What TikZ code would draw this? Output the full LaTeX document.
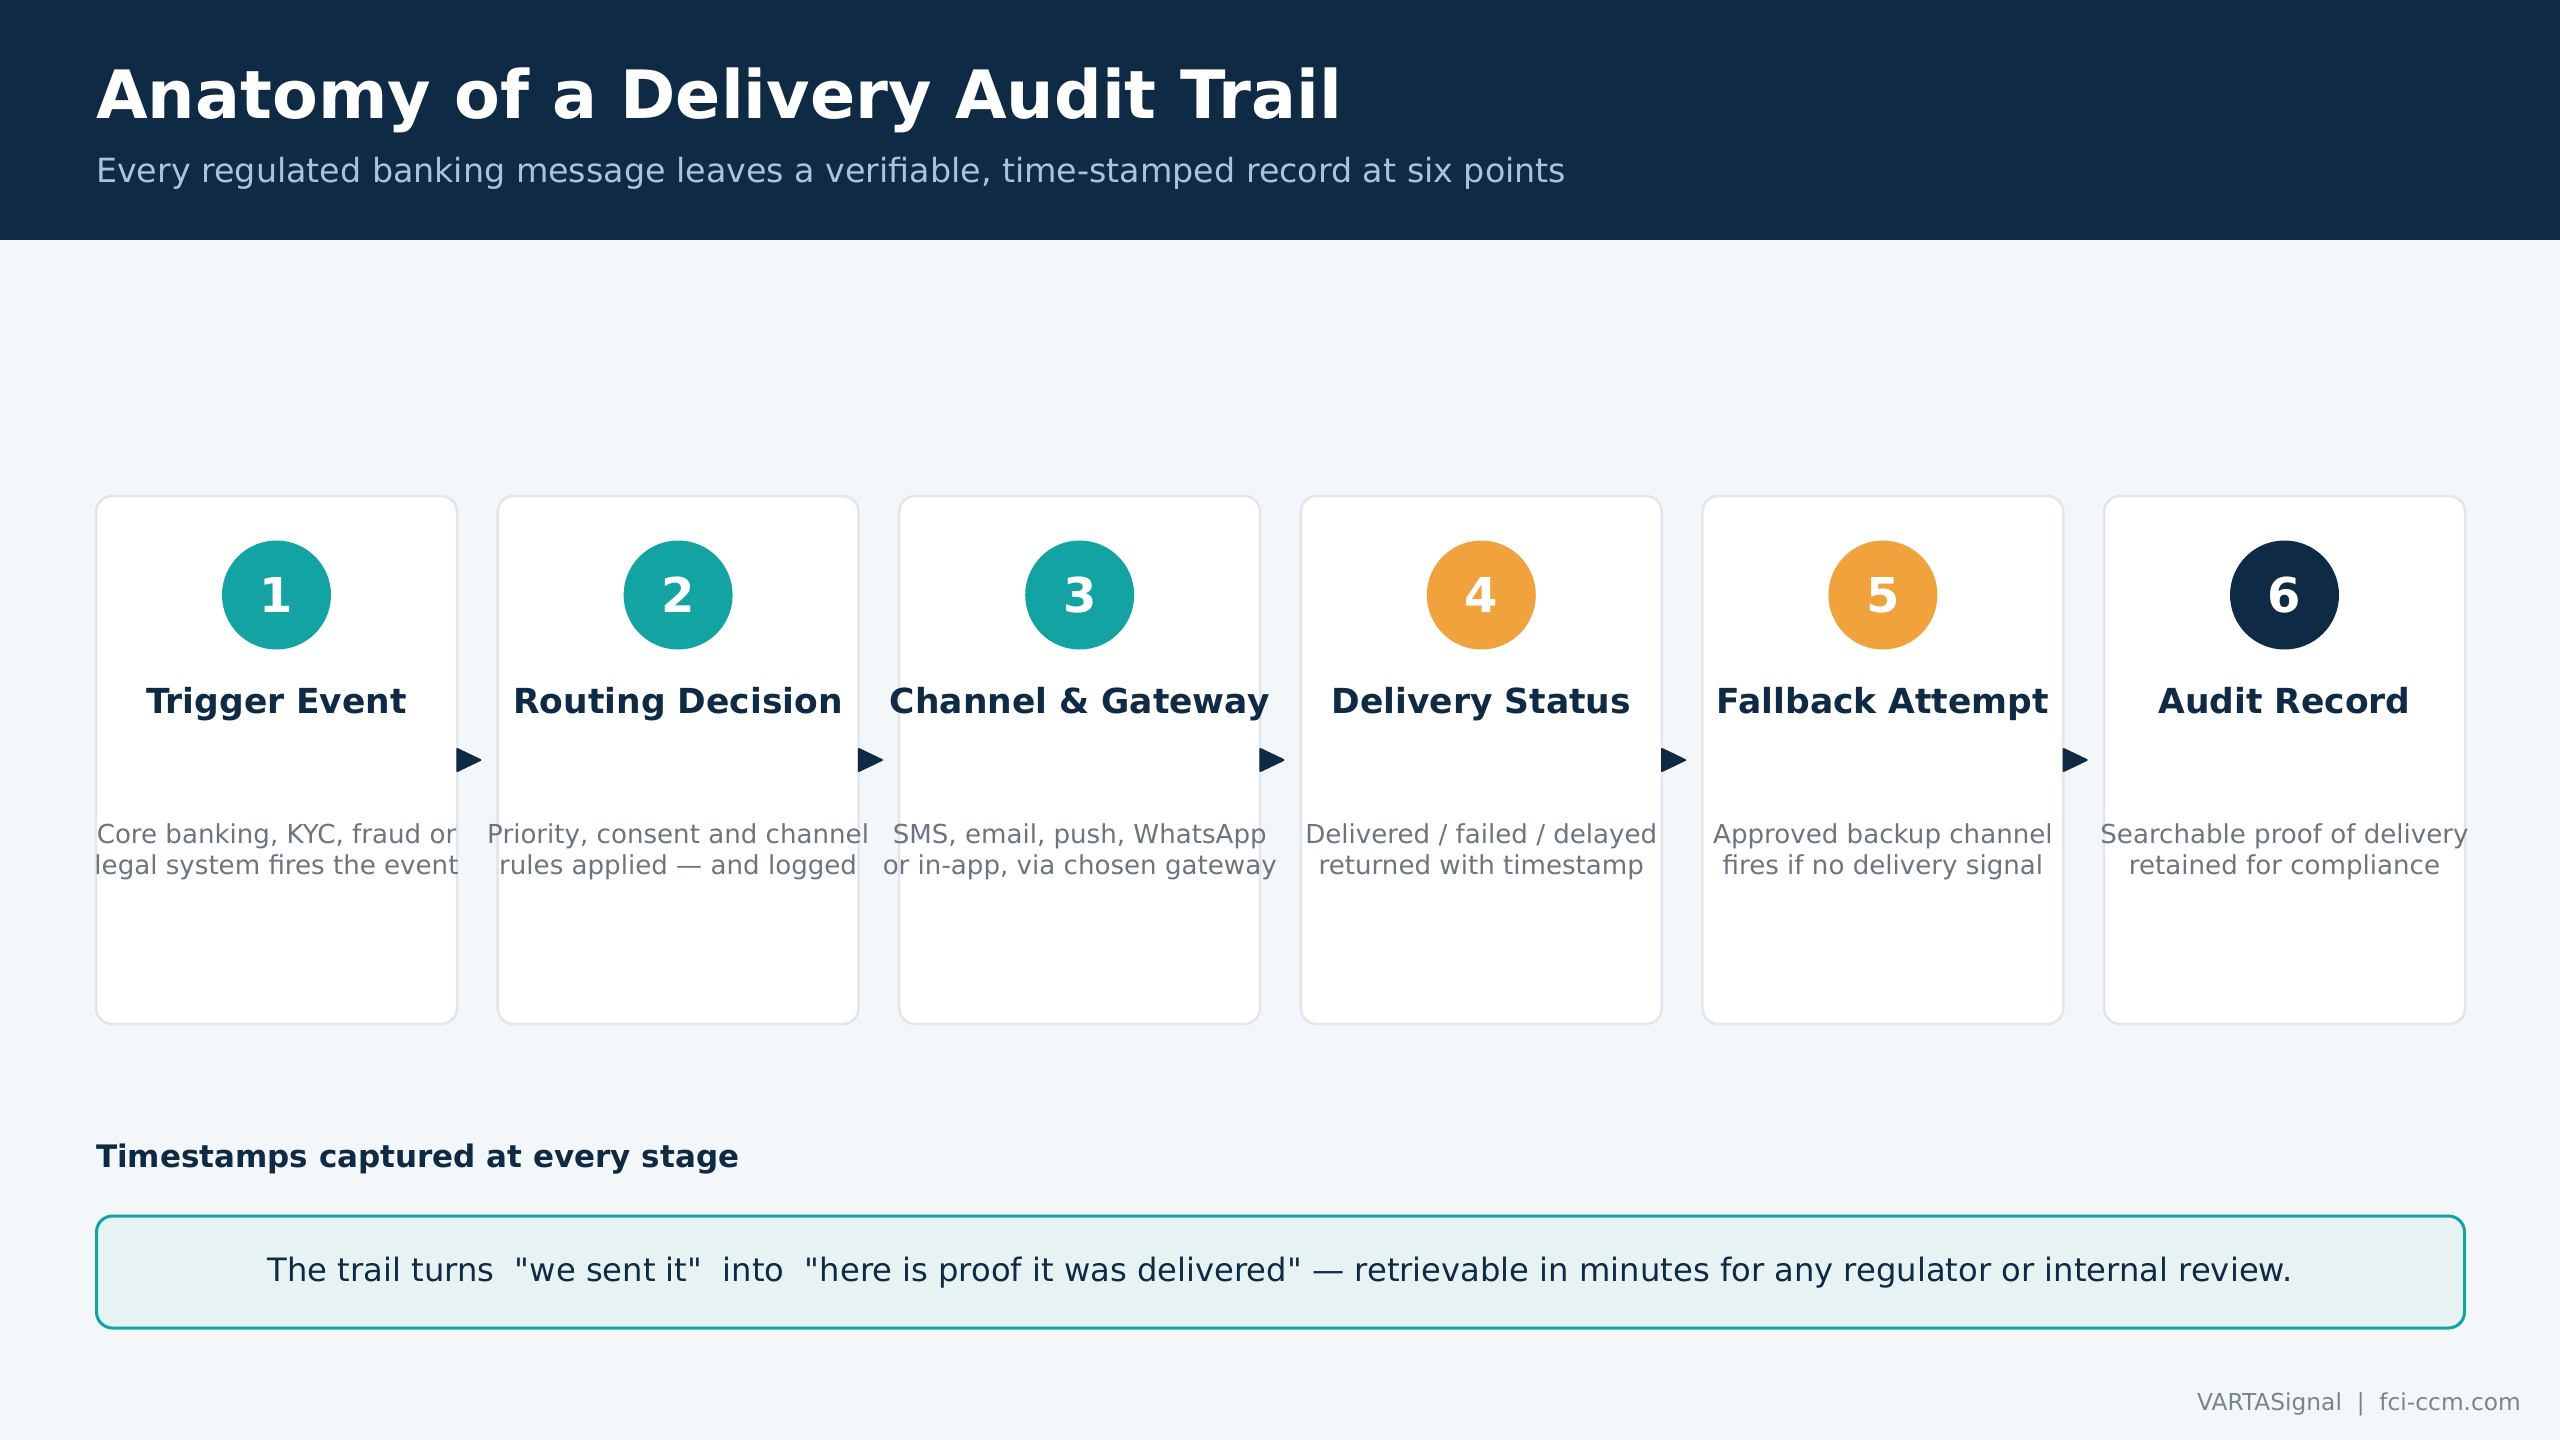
\documentclass[tikz,border=0pt]{standalone}
\usepackage{fontspec}
\setmainfont{DejaVu Sans}[Ligatures=TeXOff]
\usetikzlibrary{arrows.meta,calc}
\definecolor{cnavy}{HTML}{0F2A44}
\definecolor{cteal}{HTML}{14A3A3}
\definecolor{corange}{HTML}{F0A23C}
\definecolor{cbg}{HTML}{F3F7FA}
\definecolor{cborder}{HTML}{E1E6EC}
\definecolor{cgray}{HTML}{6B7580}
\definecolor{csub}{HTML}{A9C3DA}
\definecolor{cboxfill}{HTML}{E7F3F3}
\definecolor{cfoot}{HTML}{7A848E}
\tikzset{
  card/.style={draw=cborder, line width=2.5pt, fill=white, rounded corners=16pt,
    minimum width=361pt, minimum height=528pt, inner sep=0pt},
  badge/.style={circle, minimum size=109pt, inner sep=0pt, text=white,
    font=\fontsize{48}{56}\selectfont\bfseries},
  ctitle/.style={anchor=base, inner sep=0pt, text=cnavy, font=\fontsize{34.5}{40}\selectfont\bfseries},
  cdesc/.style={anchor=base, inner sep=0pt, text=cgray, align=center,
    font=\fontsize{26.1}{31}\selectfont},
  flowarrow/.style={fill=cnavy, draw=cnavy, line width=2pt, line join=round},
}
\begin{document}
\begin{tikzpicture}[x=1pt,y=-1pt]
\fill[cbg] (0,0) rectangle (2560,1440);
\useasboundingbox (0,0) rectangle (2560,1440);
\fill[cnavy] (0,0) rectangle (2560,240);
\node[anchor=base west, inner sep=0pt, text=white, font=\fontsize{66.7}{80}\selectfont\bfseries] (title) at (96,118) {Anatomy of a Delivery Audit Trail};
\node[anchor=base west, inner sep=0pt, text=csub, font=\fontsize{33.3}{40}\selectfont] (subtitle) at (96,182) {Every regulated banking message leaves a verifiable, time-stamped record at six points};

\foreach \i/\col/\t/\da/\db in {
  1/cteal/Trigger Event/{Core banking, KYC, fraud or}/{legal system fires the event},
  2/cteal/Routing Decision/{Priority, consent and channel}/{rules applied — and logged},
  3/cteal/Channel \& Gateway/{SMS, email, push, WhatsApp}/{or in-app, via chosen gateway},
  4/corange/Delivery Status/{Delivered / failed / delayed}/{returned with timestamp},
  5/corange/Fallback Attempt/{Approved backup channel}/{fires if no delivery signal},
  6/cnavy/Audit Record/{Searchable proof of delivery}/{retained for compliance}} {
  \pgfmathsetmacro{\cx}{276.5+401.6*(\i-1)}
  \node[card] (c\i) at (\cx,760) {};
  \node[badge, fill=\col] (b\i) at (\cx,595) {\i};
  \node[ctitle] (t\i) at (\cx,713) {\t};
  \node[cdesc] (d\i) at (\cx,843) {\da};
  \node[cdesc] (e\i) at (\cx,874) {\db};
}
\foreach \i in {1,...,5} {
  \draw[flowarrow] ($(c\i.east)+(-1,-11)$) -- ($(c\i.east)+(22,0)$) -- ($(c\i.east)+(-1,11)$) -- cycle;
}

\node[anchor=base west, inner sep=0pt, text=cnavy, font=\fontsize{31}{36}\selectfont\bfseries] (ts) at (96,1167) {Timestamps captured at every stage};
\node[draw=cteal, line width=3pt, fill=cboxfill, rounded corners=16pt, minimum width=2368pt, minimum height=112pt, inner sep=0pt] (box) at (1280.5,1272) {};
\node[anchor=base, inner sep=0pt, text=cnavy, font=\fontsize{32.2}{38}\selectfont] (boxtext) at (1280,1281) {The trail turns \ "we sent it" \ into \ "here is proof it was delivered" — retrievable in minutes for any regulator or internal review.};
\node[anchor=base east, inner sep=0pt, text=cfoot, font=\fontsize{23.3}{28}\selectfont] (foot) at (2521,1410) {VARTASignal \ | \ fci-ccm.com};
\end{tikzpicture}
\end{document}
